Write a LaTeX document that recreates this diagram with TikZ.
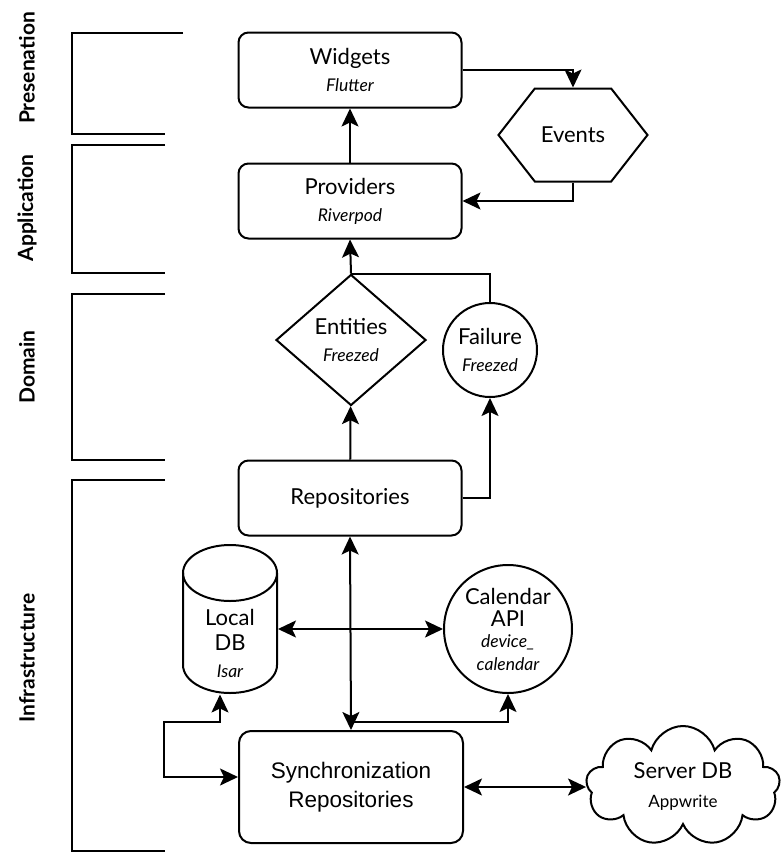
\documentclass[tikz,border=0pt]{standalone}
\usepackage{fontspec}
\setmainfont{Lato}
\newfontfamily\syncfont{Liberation Sans}
\usetikzlibrary{shapes.geometric,shapes.symbols,arrows.meta,calc}

\newcommand{\subtxt}{\fontsize{17.5}{20}\selectfont\itshape}

\begin{document}
\begin{tikzpicture}[
    x=1pt, y=-1pt,
    line width=2pt,
    layerbox/.style={rectangle, draw, rounded corners=10pt, minimum width=223pt, minimum height=75pt, align=center, font=\fontsize{22}{27}\selectfont},
    shapetxt/.style={draw, inner sep=0pt, align=center, font=\fontsize{22}{27}\selectfont},
    layerlbl/.style={rotate=90, font=\fontsize{21}{24}\selectfont\bfseries},
    arr/.style={-{Stealth[length=18pt,width=17pt,inset=4pt]}},
    darr/.style={{Stealth[length=18pt,width=17pt,inset=4pt]}-{Stealth[length=18pt,width=17pt,inset=4pt]}}
]
    \useasboundingbox (0,0) rectangle (782,852);

    % layer brackets
    \draw (183,33) -| (72,134) -- (165,134);
    \draw (165,145) -| (72,273) -- (165,273);
    \draw (165,294) -| (72,460) -- (165,460);
    \draw (165,480) -| (72,851) -- (165,851);
    \node[layerlbl] (lpres) at (27,68) {Presenation};
    \node[layerlbl] (lapp) at (27,208) {Application};
    \node[layerlbl] (ldom) at (27,367) {Domain};
    \node[layerlbl] (linf) at (27,658) {Infrastructure};

    % nodes
    \node[layerbox] (wid) at (350,70) {Widgets\\[0pt]{\subtxt Flutter}};
    \node[layerbox] (prov) at (350,201) {Providers\\[0pt]{\subtxt Riverpod}};
    \node[shapetxt, signal, signal to=east and west, signal pointer angle=104, minimum width=149pt, minimum height=93pt] (ev) at (573,135) {Events};
    \node[shapetxt, diamond, aspect=1.15, minimum width=150pt, minimum height=131pt] (ent) at (351,340) {Entities\\[0pt]{\subtxt Freezed}};
    \node[shapetxt, circle, minimum size=94pt] (fail) at (490,350) {Failure\\[0pt]{\subtxt Freezed}};
    \node[layerbox] (repo) at (350,498) {Repositories};
    % local database drum
    \node[minimum width=94pt, minimum height=149pt, inner sep=0pt] (ldb) at (230,619) {};
    \draw (183,573) -- (183,665) arc[start angle=180, end angle=360, x radius=47pt, y radius=28pt] -- (277,573);
    \draw (230,573) ellipse [x radius=47pt, y radius=28pt];
    \node[align=center, font=\fontsize{22}{27}\selectfont] (ldbtxt) at (230,643) {Local\\[-2pt]DB\\[0pt]{\subtxt Isar}};
    \node[shapetxt, circle, minimum size=128pt] (cal) at (508,629) {Calendar\\[-5pt]API\\[-6pt]{\subtxt device\_}\\[-4pt]{\subtxt calendar}};
    \node[layerbox, rounded corners=12pt, minimum width=224pt, minimum height=112pt, font=\fontsize{22.5}{29}\syncfont] (sync) at (351,787) {Synchronization\\Repositories};
    \node[shapetxt, cloud, cloud puffs=9, aspect=1.6, minimum width=194pt, minimum height=120pt] (srv) at (683,786) {Server DB\\[2pt]{\fontsize{17}{20}\selectfont Appwrite}};

    % connectors
    \draw[arr] (prov) -- (wid);
    \draw[arr] (wid.east) -| (ev.north);
    \draw[arr] (ev.south) |- (prov.east);
    \draw[arr] (ent.north) -- (prov.south);
    \draw (fail.north) |- (ent.north);
    \draw[arr] (repo) -- (ent);
    \draw[arr] (repo.east) -| (fail.south);
    \draw[darr] (repo.south) -- (sync.north);
    \draw[darr] (ldb.east |- cal.west) -- (cal.west);
    \coordinate (jn) at (351,722);
    \draw[arr] (jn) -| (cal.south);
    \coordinate (lk) at (164,722);
    \draw[darr] ([xshift=-10pt]ldb.south) |- (lk) |- ([yshift=10pt]sync.west);
    \draw[darr] (sync.east) -- (sync.east -| srv.west);
\end{tikzpicture}
\end{document}
